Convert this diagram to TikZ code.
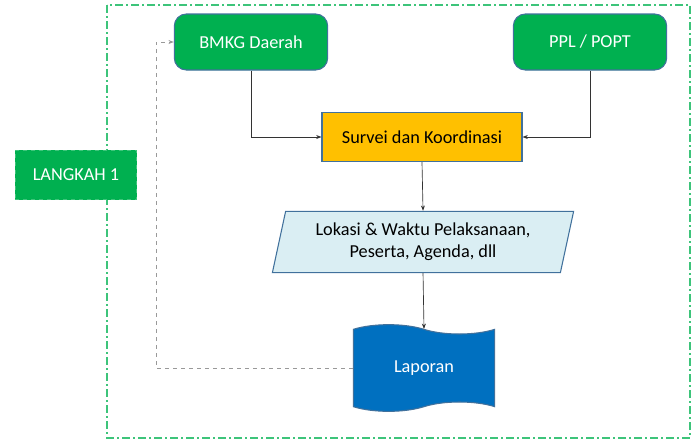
\documentclass[tikz,border=0pt]{standalone}
\usepackage{fontspec}
\setmainfont{Carlito}
\usetikzlibrary{arrows.meta}
\usetikzlibrary{shapes.geometric}
\usetikzlibrary{shapes.symbols}

\definecolor{boxgreen}{HTML}{00B050}
\definecolor{framegreen}{HTML}{3DC47A}
\definecolor{boxyellow}{HTML}{FFC000}
\definecolor{boxedge}{HTML}{41719C}
\definecolor{paleblue}{HTML}{DAEEF3}
\definecolor{tapeblue}{HTML}{0070C0}

\tikzset{
  greenbox/.style={draw=boxedge, fill=boxgreen, rounded corners=9pt, text=white,
    minimum width=115pt, minimum height=42pt, line width=0.8pt},
  stepbox/.style={draw=framegreen, fill=boxgreen, dashed, text=white,
    minimum width=91pt, minimum height=37pt, line width=0.8pt},
  yellowbox/.style={draw=boxedge, fill=boxyellow, minimum width=150pt,
    minimum height=37pt, line width=0.8pt},
  databox/.style={draw=boxedge, fill=paleblue, trapezium, trapezium left angle=77,
    trapezium right angle=103, trapezium stretches=true, minimum width=226pt,
    minimum height=46pt, align=center, line width=0.8pt},
  reportbox/.style={draw=boxedge, fill=tapeblue, tape, text=white, minimum width=106pt,
    minimum height=65pt, tape bend top=out and in, tape bend bottom=in and out,
    tape bend height=7pt, line width=0.8pt},
  flow/.style={-{Stealth[length=4pt,width=3pt]}, black!80, line width=0.5pt},
  back/.style={-{Stealth[length=4pt,width=3pt]}, gray!80, dashed, line width=0.5pt}
}

\begin{document}
\begin{tikzpicture}[x=0.75pt, y=-0.75pt, font=\fontsize{13.7}{16.5}\selectfont]
 			\useasboundingbox (0,0) rectangle (692,440);
 			% outer frame
 			\draw[framegreen, line width=1pt, dash pattern=on 6pt off 2.5pt on 1pt off 2.5pt]
 				(107,5) rectangle (690,438);
 			\path (76,175) node(step1)[stepbox] {LANGKAH 1};
 			\path (251,42) node(bmkg)[greenbox] {BMKG Daerah};
 			\path (590,42) node(ppl)[greenbox] {PPL / POPT};
 			\path (422,137) node(survei)[yellowbox] {Survei dan Koordinasi};
 			\path (423,242) node(lokasi)[databox]
 				{Lokasi \& Waktu Pelaksanaan,\\ Peserta, Agenda, dll};
 			\path (424,368) node(laporan)[reportbox] {Laporan};
 			\coordinate (loopA) at (156,368);
 			\coordinate (loopB) at (156,42);
 			%% Drawing Connecting Arrows
 			\draw[flow] (bmkg.south) |- (survei.west);
 			\draw[flow] (ppl.south) |- (survei.east);
 			\draw[flow] (survei.south) -- (lokasi.north);
 			\draw[flow] (lokasi.south) -- (laporan.north);
 			\draw[back] (laporan.west) -- (loopA) -- (loopB) -- (bmkg.west);
 		\end{tikzpicture}
\end{document}
